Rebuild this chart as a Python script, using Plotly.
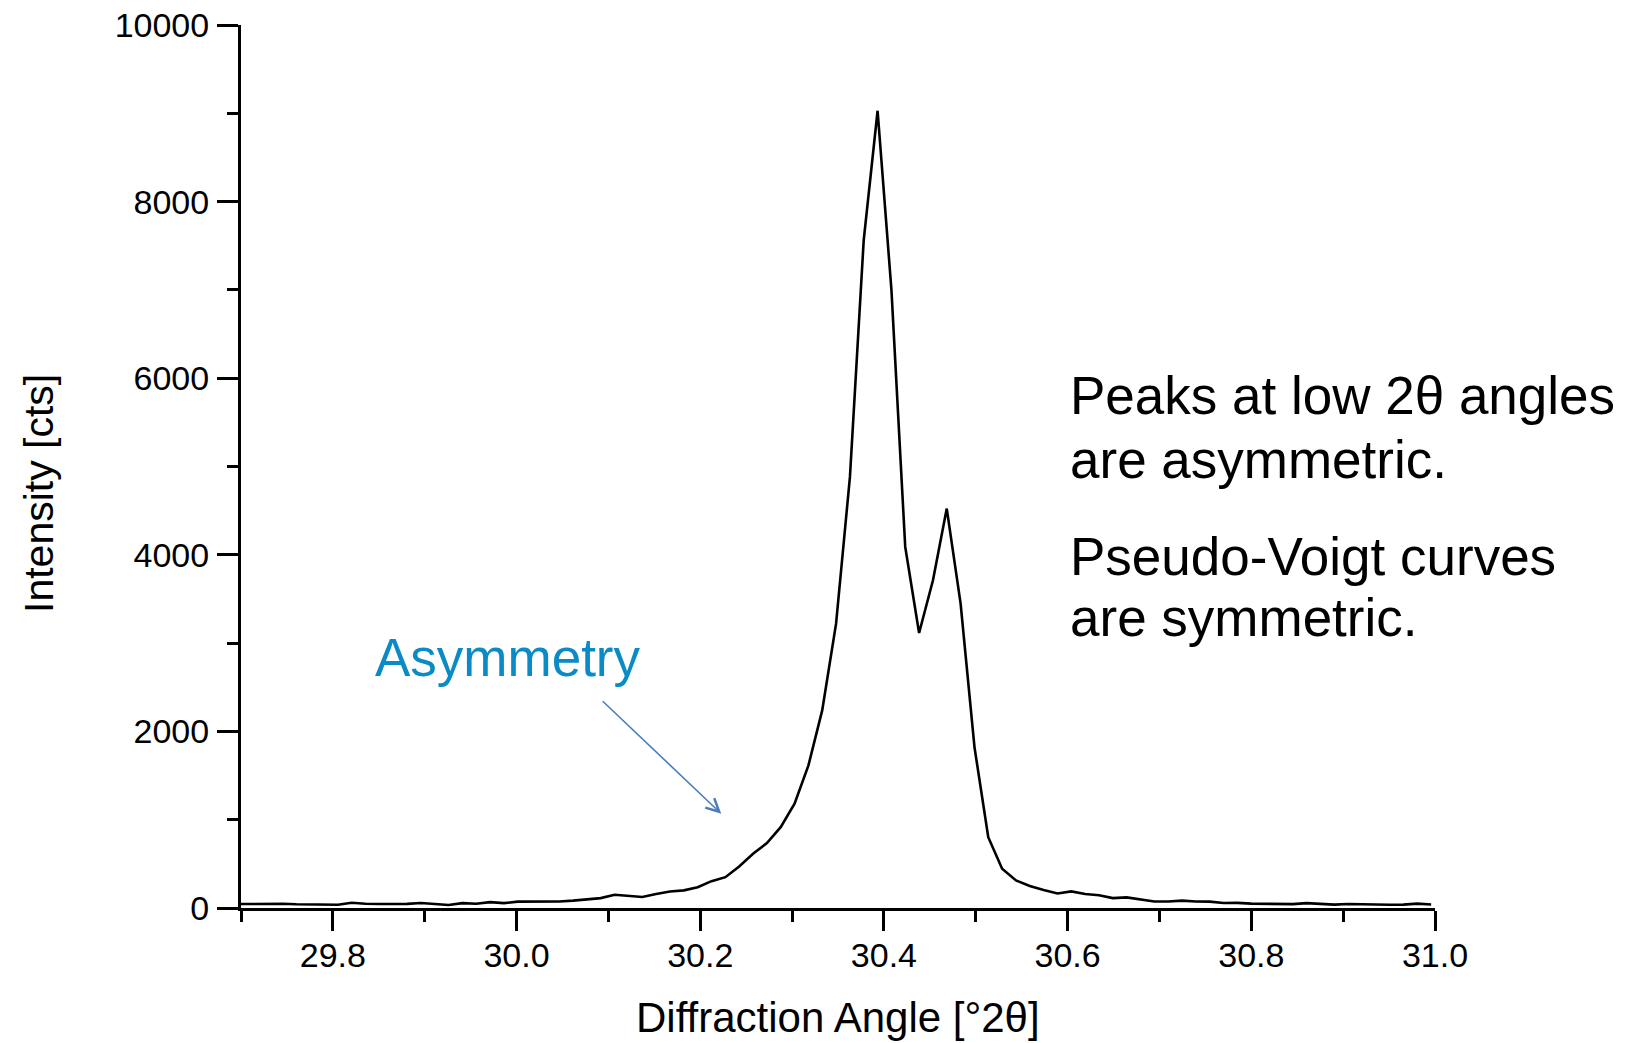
import plotly.graph_objects as go

# ---- data ----
angle = [29.7000, 29.7151, 29.7301, 29.7452, 29.7603, 29.7753, 29.7904, 29.8055, 29.8205, 29.8356,
         29.8507, 29.8657, 29.8808, 29.8959, 29.9109, 29.9260, 29.9411, 29.9561, 29.9712, 29.9863,
         30.0013, 30.0164, 30.0315, 30.0465, 30.0616, 30.0767, 30.0917, 30.1068, 30.1219, 30.1369,
         30.1520, 30.1671, 30.1822, 30.1972, 30.2123, 30.2274, 30.2424, 30.2575, 30.2726, 30.2876,
         30.3027, 30.3178, 30.3328, 30.3479, 30.3630, 30.3780, 30.3931, 30.4082, 30.4232, 30.4383,
         30.4534, 30.4684, 30.4835, 30.4986, 30.5136, 30.5287, 30.5438, 30.5588, 30.5739, 30.5890,
         30.6040, 30.6191, 30.6342, 30.6492, 30.6643, 30.6794, 30.6944, 30.7095, 30.7246, 30.7396,
         30.7547, 30.7698, 30.7848, 30.7999, 30.8150, 30.8300, 30.8451, 30.8602, 30.8752, 30.8903,
         30.9054, 30.9204, 30.9355, 30.9506, 30.9656, 30.9807, 30.9958]
intensity = [45, 48, 50, 48, 42, 38, 36, 36, 60, 48,
             45, 45, 47, 57, 46, 34, 55, 48, 66, 55,
             72, 72, 72, 74, 84, 100, 112, 150, 140, 125,
             158, 186, 200, 235, 304, 349, 470, 614, 735, 916,
             1181, 1615, 2238, 3220, 4882, 7564, 9029, 6997, 4089, 3114,
             3711, 4523, 3447, 1822, 802, 444, 312, 250, 205, 165,
             188, 158, 145, 112, 120, 95, 74, 74, 84, 74,
             72, 56, 58, 50, 48, 40, 44, 55, 45, 38,
             45, 45, 40, 36, 38, 50, 40]

x_major = [29.8, 30.0, 30.2, 30.4, 30.6, 30.8, 31.0]
x_major_labels = ["29.8", "30.0", "30.2", "30.4", "30.6", "30.8", "31.0"]
x_minor = [29.7, 29.9, 30.1, 30.3, 30.5, 30.7, 30.9]
y_major = [0, 2000, 4000, 6000, 8000, 10000]
y_major_labels = ["0", "2000", "4000", "6000", "8000", "10000"]
y_minor = [1000, 3000, 5000, 7000, 9000]

x_title = "Diffraction Angle [°2θ]"
y_title = "Intensity [cts]"
note_lines = ["Peaks at low 2θ angles", "are asymmetric.", "Pseudo-Voigt curves", "are symmetric."]
arrow_label = "Asymmetry"
arrow_tip = (30.2229, 1067)

W, H = 1630, 1043
ML, MR, MT, MB = 241, 195, 25, 135
PW, PH = W - ML - MR, H - MT - MB
FONT = "Liberation Sans, Arial, Helvetica, sans-serif"


def px(xp):
    return (xp - ML) / PW


def py(yp):
    return (H - MB - yp) / PH


fig = go.Figure()
fig.add_trace(go.Scatter(x=angle, y=intensity, mode="lines",
                         line=dict(color="black", width=2.6), showlegend=False))

axis_common = dict(showline=True, linecolor="black", linewidth=3, showgrid=False,
                   zeroline=False, ticks="outside", tickcolor="black", tickwidth=3,
                   tickfont=dict(family=FONT, size=34, color="black"), mirror=False,
                   automargin=False)

fig.update_xaxes(range=[29.7, 31.0], tickmode="array", tickvals=x_major, ticktext=x_major_labels,
                 ticklen=20, ticklabelstandoff=-5,
                 minor=dict(tickmode="array", tickvals=x_minor, ticklen=11, tickwidth=3,
                            tickcolor="black", ticks="outside"),
                 **axis_common)
fig.update_yaxes(range=[0, 10000], tickmode="array", tickvals=y_major, ticktext=y_major_labels,
                 ticklen=21, ticklabelstandoff=1,
                 minor=dict(tickmode="array", tickvals=y_minor, ticklen=11, tickwidth=3,
                            tickcolor="black", ticks="outside"),
                 **axis_common)

ann = []
# axis titles
ann.append(dict(text=x_title, xref="paper", yref="paper", x=px(838), y=py(1017),
                xanchor="center", yanchor="middle", showarrow=False,
                font=dict(family=FONT, size=42, color="black")))
ann.append(dict(text=y_title, xref="paper", yref="paper", x=px(39), y=py(494),
                xanchor="center", yanchor="middle", showarrow=False, textangle=-90,
                font=dict(family=FONT, size=41, color="black")))
# right-side notes
for line, base in zip(note_lines, [416, 480, 577, 638]):
    ann.append(dict(text=line, xref="paper", yref="paper", x=px(1068), y=py(base - 21),
                    xanchor="left", yanchor="middle", showarrow=False,
                    font=dict(family=FONT, size=53, color="black")))
# Asymmetry label
ann.append(dict(text=arrow_label, xref="paper", yref="paper", x=px(373), y=py(677 - 20),
                xanchor="left", yanchor="middle", showarrow=False,
                font=dict(family=FONT, size=53, color="#0a8bc6")))
# arrow
ann.append(dict(text="", x=arrow_tip[0], y=arrow_tip[1], xref="x", yref="y",
                ax=-120, ay=-114, showarrow=True, arrowhead=5, arrowsize=1.6,
                arrowwidth=1.6, arrowcolor="#4a7ebb", standoff=0, startstandoff=0))

fig.update_layout(width=W, height=H, margin=dict(l=ML, r=MR, t=MT, b=MB, pad=0),
                  paper_bgcolor="white", plot_bgcolor="white", annotations=ann,
                  font=dict(family=FONT, color="black"))

fig.write_html("out.html")
